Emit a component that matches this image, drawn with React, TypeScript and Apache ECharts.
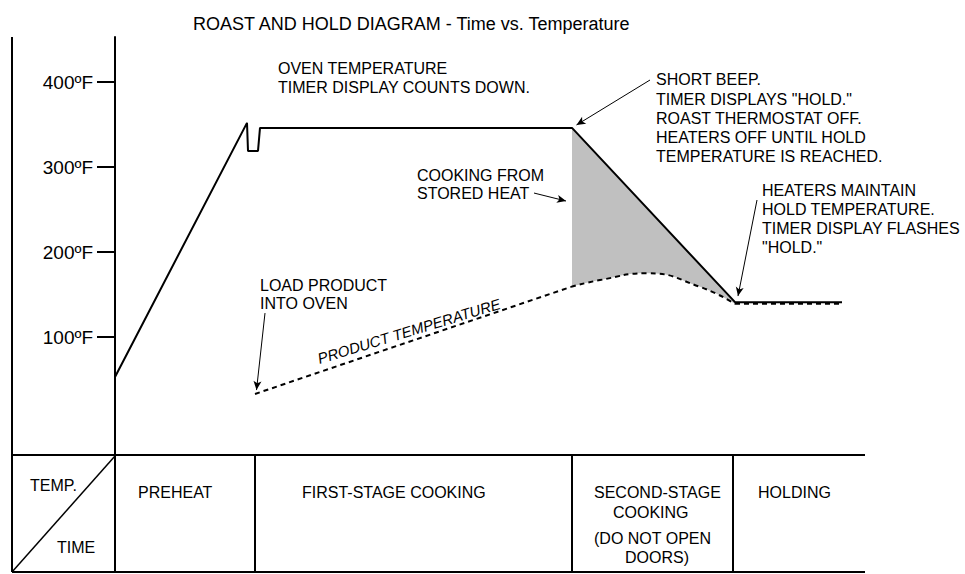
import React, { useEffect, useRef } from "react";
import * as echarts from "echarts";

// ---------- data ----------
const chartTitle = "ROAST AND HOLD DIAGRAM - Time vs. Temperature";
const tempTicks = [100, 200, 300, 400];

// oven temperature curve (time units, ºF)
const ovenTime = [0, 26.4, 26.6, 28.6, 29, 91.4, 124, 145.4];
const ovenTemp = [53, 352, 319, 319, 346, 346, 141, 141];

// product temperature (dashed)
const productRiseTime = [28, 91.2];
const productRiseTemp = [33, 159];
const productHumpTime = [91.2, 97, 106.4, 117, 124];
const productHumpTemp = [159, 167, 175, 159, 139];
const productHoldTime = [124, 145.4];
const productHoldTemp = [139, 139];

// stage boundaries along time
const stageEdges = [0, 28, 91.4, 123.6, 150];

// ---------- layout ----------
const FONT = '"Liberation Sans", Arial, Helvetica, sans-serif';
const GRID = { left: 115, top: 37, width: 750, height: 419 };
const X_RANGE = [0, 150];
const Y_RANGE = [-40, 453];
const TABLE_TOP = 455;
const TABLE_BOTTOM = 572;
const OUTER_LEFT = 12;

const arrowLayout = [
  { from: [107, 402.4], to: [92.3, 349.5] },
  { from: [83.8, 269.4], to: [90.2, 260] },
  { from: [30, 128.2], to: [28.3, 37.6] },
  { from: [128.4, 261.2], to: [124.6, 148.2] },
];

const zip = (xs: number[], ys: number[]) => xs.map((x, i) => [x, ys[i]]);

function textEl(x: number, yFirstCenter: number, text: string, extra: any = {}) {
  const lh = extra.lineHeight ?? 19;
  const fs = extra.fontSize ?? 16;
  return {
    type: "text",
    x,
    y: yFirstCenter - lh / 2,
    z: 100,
    silent: true,
    style: {
      text,
      fill: "#000",
      fontSize: fs,
      fontFamily: FONT,
      lineHeight: lh,
      align: extra.align ?? "left",
      verticalAlign: "top",
    },
  };
}

function lineEl(x1: number, y1: number, x2: number, y2: number, w = 2) {
  return {
    type: "line",
    z: 100,
    silent: true,
    shape: { x1, y1, x2, y2 },
    style: { stroke: "#000", lineWidth: w },
  };
}

export default function App() {
  const ref = useRef<HTMLDivElement>(null);

  useEffect(() => {
    if (!ref.current) return;
    const chart = echarts.init(ref.current, null, { renderer: "svg" });

    const option: any = {
      animation: false,
      backgroundColor: "#fff",
      title: {
        text: chartTitle,
        left: 188,
        top: 10,
        textStyle: { fontSize: 18, fontWeight: "normal", color: "#000", fontFamily: FONT },
      },
      grid: { ...GRID, containLabel: false },
      xAxis: {
        type: "value",
        min: X_RANGE[0],
        max: X_RANGE[1],
        show: false,
      },
      yAxis: {
        type: "value",
        min: Y_RANGE[0],
        max: Y_RANGE[1],
        axisLine: { show: true, lineStyle: { color: "#000", width: 2 } },
        axisTick: { show: true, customValues: tempTicks, length: 18, lineStyle: { color: "#000", width: 2 } },
        axisLabel: {
          show: true,
          customValues: tempTicks,
          margin: 22,
          formatter: (v: number) => `${v}ºF`,
          color: "#000",
          fontSize: 19,
          fontFamily: FONT,
        },
        splitLine: { show: false },
      },
      series: [
        {
          name: "shade",
          type: "line",
          data: zip(ovenTime.slice(5, 7), ovenTemp.slice(5, 7)),
          symbol: "none",
          lineStyle: { width: 0 },
          areaStyle: { color: "#c0c0c0", opacity: 1, origin: "start" },
          z: 1,
          silent: true,
        },
        {
          name: "productHump",
          type: "line",
          data: zip(productHumpTime, productHumpTemp),
          smooth: 0.5,
          symbol: "none",
          lineStyle: { color: "#000", width: 2, type: [5, 4] },
          areaStyle: { color: "#fff", opacity: 1, origin: "start" },
          z: 2,
          silent: true,
        },
        {
          name: "productRise",
          type: "line",
          data: zip(productRiseTime, productRiseTemp),
          symbol: "none",
          lineStyle: { color: "#000", width: 2, type: [5, 4] },
          z: 3,
          silent: true,
        },
        {
          name: "productHold",
          type: "line",
          data: zip(productHoldTime, productHoldTemp),
          symbol: "none",
          lineStyle: { color: "#000", width: 2, type: [5, 4] },
          z: 3,
          silent: true,
        },
        {
          name: "oven",
          type: "line",
          data: zip(ovenTime, ovenTemp),
          symbol: "none",
          lineStyle: { color: "#000", width: 2 },
          z: 4,
          silent: true,
          markLine: {
            silent: true,
            symbol: ["none", "arrow"],
            symbolSize: [6, 9],
            label: { show: false },
            lineStyle: { color: "#000", width: 1, type: "solid" },
            data: arrowLayout.map((a) => [{ coord: a.from }, { coord: a.to }]),
          },
        },
      ],
    };
    chart.setOption(option);

    const px = (t: number, v: number) => chart.convertToPixel({ gridIndex: 0 }, [t, v]) as number[];
    const colX = stageEdges.map((t) => px(t, 0)[0]);
    const axisBottom = px(0, Y_RANGE[0])[1];
    const rightX = colX[colX.length - 1];

    const graphic: any[] = [
      lineEl(OUTER_LEFT, GRID.top, OUTER_LEFT, TABLE_BOTTOM),
      lineEl(colX[0], axisBottom - 1, colX[0], TABLE_BOTTOM),
      lineEl(OUTER_LEFT, TABLE_TOP, rightX, TABLE_TOP),
      lineEl(OUTER_LEFT, TABLE_BOTTOM, rightX, TABLE_BOTTOM),
      lineEl(colX[1], TABLE_TOP, colX[1], TABLE_BOTTOM),
      lineEl(colX[2], TABLE_TOP, colX[2], TABLE_BOTTOM),
      lineEl(colX[3], TABLE_TOP, colX[3], TABLE_BOTTOM),
      lineEl(colX[0], TABLE_TOP + 1, OUTER_LEFT, TABLE_BOTTOM, 1.5),
      // table texts
      textEl(OUTER_LEFT + 18, 485, "TEMP."),
      textEl(OUTER_LEFT + 45, 547, "TIME"),
      textEl(colX[0] + 23, 492, "PREHEAT"),
      textEl(colX[1] + 47, 492, "FIRST-STAGE COOKING"),
      textEl(colX[2] + 22, 492, "SECOND-STAGE"),
      textEl(colX[2] + 41, 512, "COOKING"),
      textEl(colX[2] + 22, 538, "(DO NOT OPEN"),
      textEl(colX[2] + 53, 557, "DOORS)"),
      textEl(colX[3] + 25, 492, "HOLDING"),
      // annotations
      textEl(278, 68, "OVEN TEMPERATURE\nTIMER DISPLAY COUNTS DOWN.", { lineHeight: 19 }),
      textEl(
        656,
        80,
        'SHORT BEEP.\nTIMER DISPLAYS "HOLD."\nROAST THERMOSTAT OFF.\nHEATERS OFF UNTIL HOLD\nTEMPERATURE IS REACHED.',
        { lineHeight: 19.2 }
      ),
      textEl(417, 175, "COOKING FROM\nSTORED HEAT", { lineHeight: 18.5 }),
      textEl(
        762,
        190,
        'HEATERS MAINTAIN\nHOLD TEMPERATURE.\nTIMER DISPLAY FLASHES\n"HOLD."',
        { lineHeight: 19 }
      ),
      textEl(260, 285, "LOAD PRODUCT\nINTO OVEN", { lineHeight: 18.5 }),
      {
        type: "text",
        x: 409,
        y: 331,
        z: 100,
        rotation: (17 * Math.PI) / 180,
        silent: true,
        style: {
          text: "PRODUCT TEMPERATURE",
          fill: "#000",
          fontSize: 15,
          fontStyle: "italic",
          fontFamily: FONT,
          align: "center",
          verticalAlign: "middle",
        },
      },
    ];
    chart.setOption({ graphic });

    return () => chart.dispose();
  }, []);

  return (
    <div
      ref={ref}
      style={{ position: "fixed", left: 0, top: 0, width: 965, height: 574, background: "#fff" }}
    />
  );
}
